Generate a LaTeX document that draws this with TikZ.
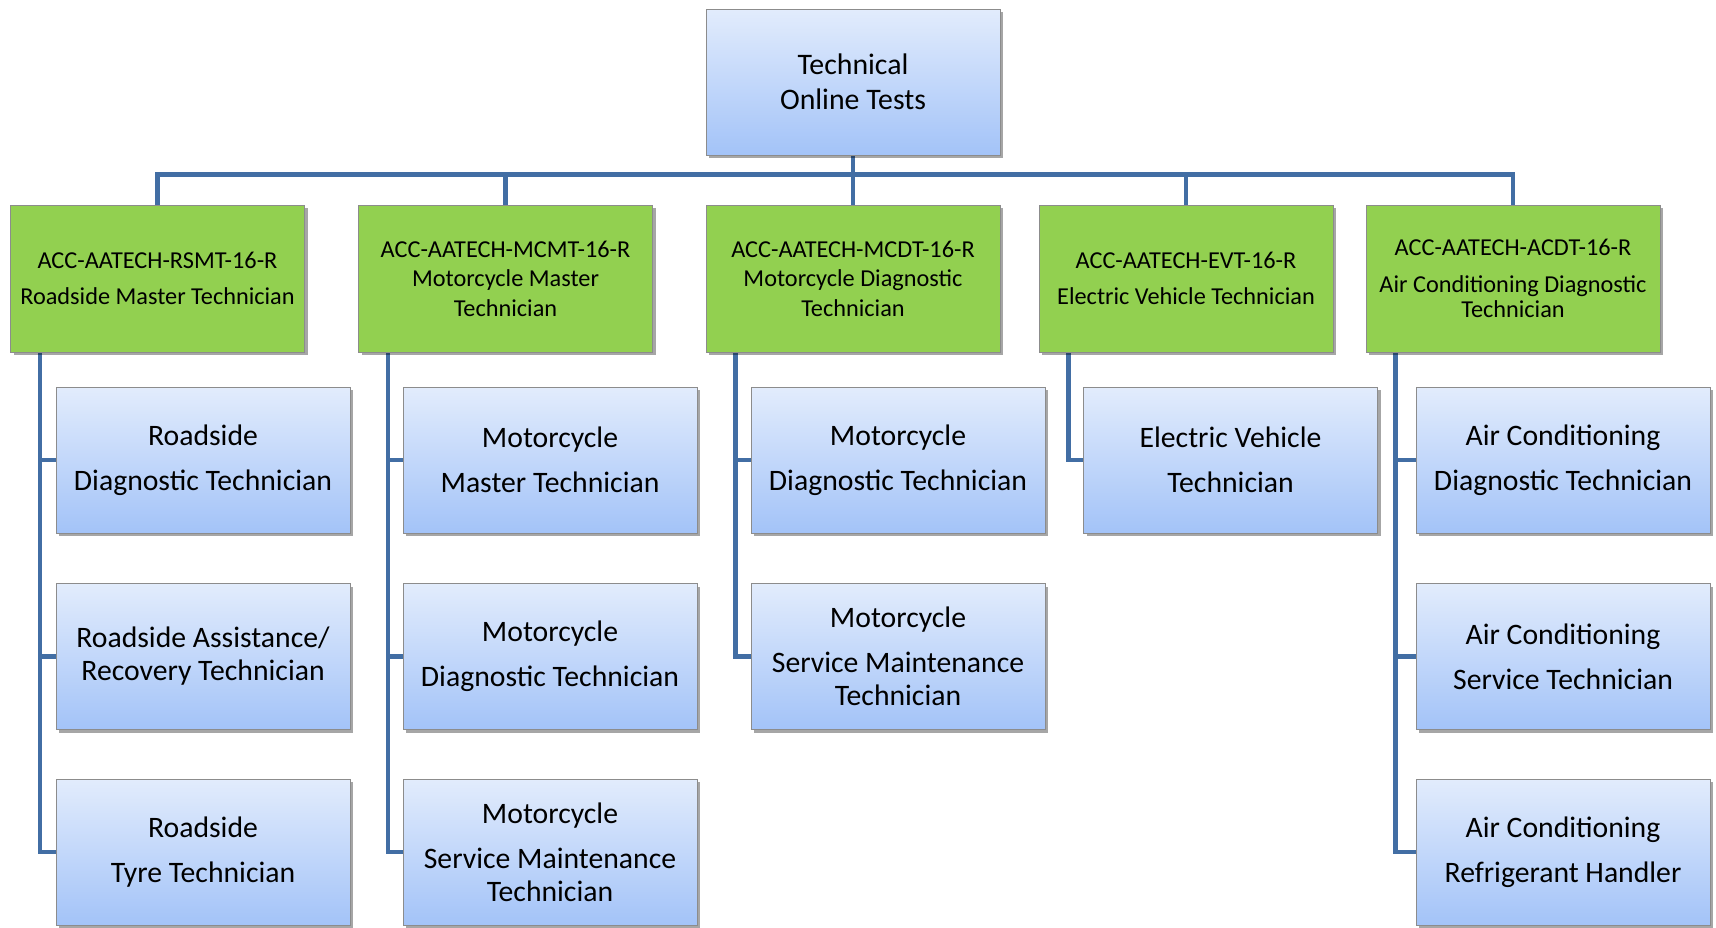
\documentclass[tikz,border=0pt]{standalone}
\usepackage{fontspec}
\setmainfont{Carlito}
\usetikzlibrary{shadows,backgrounds}
\definecolor{conncol}{RGB}{66,110,164}
\definecolor{grfill}{RGB}{146,208,80}
\definecolor{boxline}{RGB}{140,140,140}
\definecolor{bltop}{RGB}{226,236,252}
\definecolor{blbot}{RGB}{163,195,248}
\tikzset{
  conn/.style={draw=conncol,line width=4.5pt,line join=miter,line cap=rect},
  bluebox/.style={draw=boxline,line width=0.8pt,top color=bltop,bottom color=blbot,
    minimum width=294pt,minimum height=146pt,inner sep=0pt,align=center,
    drop shadow={shadow xshift=3pt,shadow yshift=-3pt,opacity=0.35,fill=black}},
  greenbox/.style={draw=boxline,line width=0.8pt,fill=grfill,
    minimum width=294pt,minimum height=147pt,inner sep=0pt,align=center,
    font=\fontsize{24.3}{25}\selectfont,
    drop shadow={shadow xshift=3pt,shadow yshift=-3pt,opacity=0.35,fill=black}},
  childbox/.style={bluebox,font=\fontsize{29.7}{33}\selectfont},
  topbox/.style={bluebox,font=\fontsize{29.8}{35}\selectfont}
}
\begin{document}
\begin{tikzpicture}[x=1pt,y=-1pt]
\useasboundingbox (0,0) rectangle (1716,927);
\clip (0,0) rectangle (1716,927);
% top
\node[topbox] (top) at (853,82) {Technical\\Online Tests};
% green row
\node[greenbox] (g1) at (157.5,278.5) {ACC-AATECH-RSMT-16-R\\[11pt]Roadside Master Technician};
\node[greenbox] (g2) at (505.5,278.5) {ACC-AATECH-MCMT-16-R\\[4.5pt]Motorcycle Master\\[4.5pt]Technician};
\node[greenbox] (g3) at (853,278.5) {ACC-AATECH-MCDT-16-R\\[4.5pt]Motorcycle Diagnostic\\[4.5pt]Technician};
\node[greenbox] (g4) at (1186,278.5) {ACC-AATECH-EVT-16-R\\[11pt]Electric Vehicle Technician};
\node[greenbox] (g5) at (1513,278.5) {ACC-AATECH-ACDT-16-R\\[12.5pt]Air Conditioning Diagnostic\\Technician};
% children column 1
\node[childbox] (c11) at (203,460) {Roadside\\[12pt]Diagnostic Technician};
\node[childbox] (c12) at (203,656.5) {Roadside Assistance/\\Recovery Technician};
\node[childbox] (c13) at (203,852) {Roadside\\[12pt]Tyre Technician};
% column 2
\node[childbox] (c21) at (550,460) {Motorcycle\\[12pt]Master Technician};
\node[childbox] (c22) at (550,656.5) {Motorcycle\\[12pt]Diagnostic Technician};
\node[childbox] (c23) at (550,852) {Motorcycle\\[12pt]Service Maintenance\\Technician};
% column 3
\node[childbox] (c31) at (898,460) {Motorcycle\\[12pt]Diagnostic Technician};
\node[childbox] (c32) at (898,656.5) {Motorcycle\\[12pt]Service Maintenance\\Technician};
% column 4
\node[childbox] (c41) at (1230.5,460) {Electric Vehicle\\[12pt]Technician};
% column 5
\node[childbox] (c51) at (1563,460) {Air Conditioning\\[12pt]Diagnostic Technician};
\node[childbox] (c52) at (1563,656.5) {Air Conditioning\\[12pt]Service Technician};
\node[childbox] (c53) at (1563,852) {Air Conditioning\\[12pt]Refrigerant Handler};
% connectors
\begin{scope}[on background layer]
\foreach \g in {g1,g2,g3,g4,g5}{
  \draw[conn] (top.south) -- ++(0,19) -| (\g.north);
}
\foreach \c in {c11,c12,c13}{\draw[conn] ([xshift=30pt]g1.south west) |- (\c.west);}
\foreach \c in {c21,c22,c23}{\draw[conn] ([xshift=30pt]g2.south west) |- (\c.west);}
\foreach \c in {c31,c32}{\draw[conn] ([xshift=30pt]g3.south west) |- (\c.west);}
\foreach \c in {c41}{\draw[conn] ([xshift=30pt]g4.south west) |- (\c.west);}
\foreach \c in {c51,c52,c53}{\draw[conn] ([xshift=30pt]g5.south west) |- (\c.west);}
\end{scope}
\end{tikzpicture}
\end{document}
